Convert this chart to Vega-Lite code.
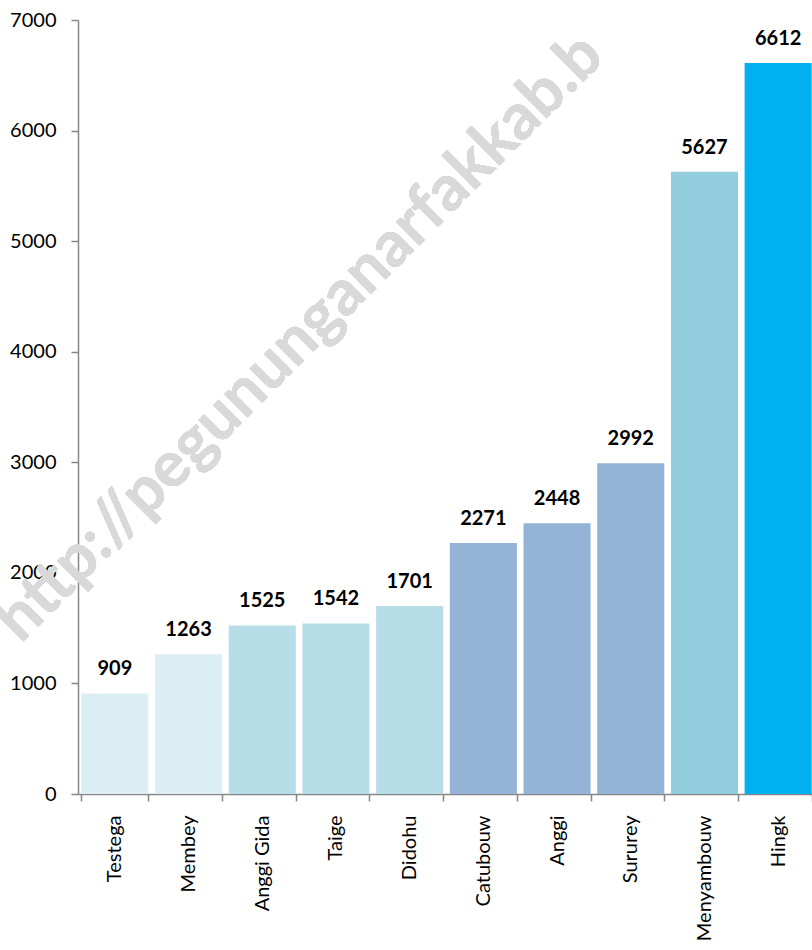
{
  "$schema": "https://vega.github.io/schema/vega-lite/v6.json",
  "width": 737,
  "height": 774,
  "autosize": {"type": "none"},
  "padding": {"left": 78, "top": 20, "right": 0, "bottom": 156},
  "background": "white",
  "config": {
    "view": {"stroke": null},
    "font": "Lato",
    "axis": {"labelFont": "Lato", "labelColor": "#000000", "grid": false, "title": null}
  },
  "data": {
    "values": [
      {"distrik": "Testega", "jumlah": 909, "kelompok": "1"},
      {"distrik": "Membey", "jumlah": 1263, "kelompok": "1"},
      {"distrik": "Anggi Gida", "jumlah": 1525, "kelompok": "2"},
      {"distrik": "Taige", "jumlah": 1542, "kelompok": "2"},
      {"distrik": "Didohu", "jumlah": 1701, "kelompok": "2"},
      {"distrik": "Catubouw", "jumlah": 2271, "kelompok": "3"},
      {"distrik": "Anggi", "jumlah": 2448, "kelompok": "3"},
      {"distrik": "Sururey", "jumlah": 2992, "kelompok": "3"},
      {"distrik": "Menyambouw", "jumlah": 5627, "kelompok": "4"},
      {"distrik": "Hingk", "jumlah": 6612, "kelompok": "5"}
    ]
  },
  "encoding": {
    "x": {
      "field": "distrik",
      "type": "nominal",
      "sort": null,
      "scale": {"paddingInner": 0.09, "paddingOuter": 0.045},
      "axis": {
        "labelAngle": -90,
        "labelAlign": "right",
        "labelBaseline": "middle",
        "labelFontSize": 20,
        "labelPadding": 14,
        "tickSize": 7,
        "tickBand": "extent",
        "domainColor": "#868686",
        "tickColor": "#868686",
        "domainWidth": 1.5,
        "tickWidth": 1.5
      }
    },
    "y": {
      "field": "jumlah",
      "type": "quantitative",
      "scale": {"domain": [0, 7000], "nice": false},
      "axis": {
        "values": [0, 1000, 2000, 3000, 4000, 5000, 6000, 7000],
        "format": "d",
        "labelFontSize": 20,
        "labelPadding": 15,
        "tickSize": 7,
        "domainColor": "#868686",
        "tickColor": "#868686",
        "domainWidth": 1.5,
        "tickWidth": 1.5
      }
    }
  },
  "layer": [
    {
      "mark": {"type": "bar"},
      "encoding": {
        "color": {
          "field": "kelompok",
          "type": "nominal",
          "scale": {"domain": ["1", "2", "3", "4", "5"], "range": ["#DBEEF3", "#B7DDE8", "#95B3D7", "#93CDDD", "#00B0F0"]},
          "legend": null
        }
      }
    },
    {
      "mark": {"type": "text", "fontWeight": "bold", "fontSize": 20, "baseline": "alphabetic", "dy": -18, "color": "#000000"},
      "encoding": {"text": {"field": "jumlah", "type": "quantitative", "format": "d"}}
    },
    {
      "mark": {"type": "text", "fontWeight": "bold", "fontSize": 64, "angle": -45, "align": "center", "baseline": "middle", "color": "#d9d9d9", "opacity": 0.7, "xOffset": -36},
      "encoding": {
        "x": {"datum": "Taige"},
        "y": {"datum": 4124},
        "text": {"value": "http://pegununganarfakkab.b"}
      }
    }
  ]
}
